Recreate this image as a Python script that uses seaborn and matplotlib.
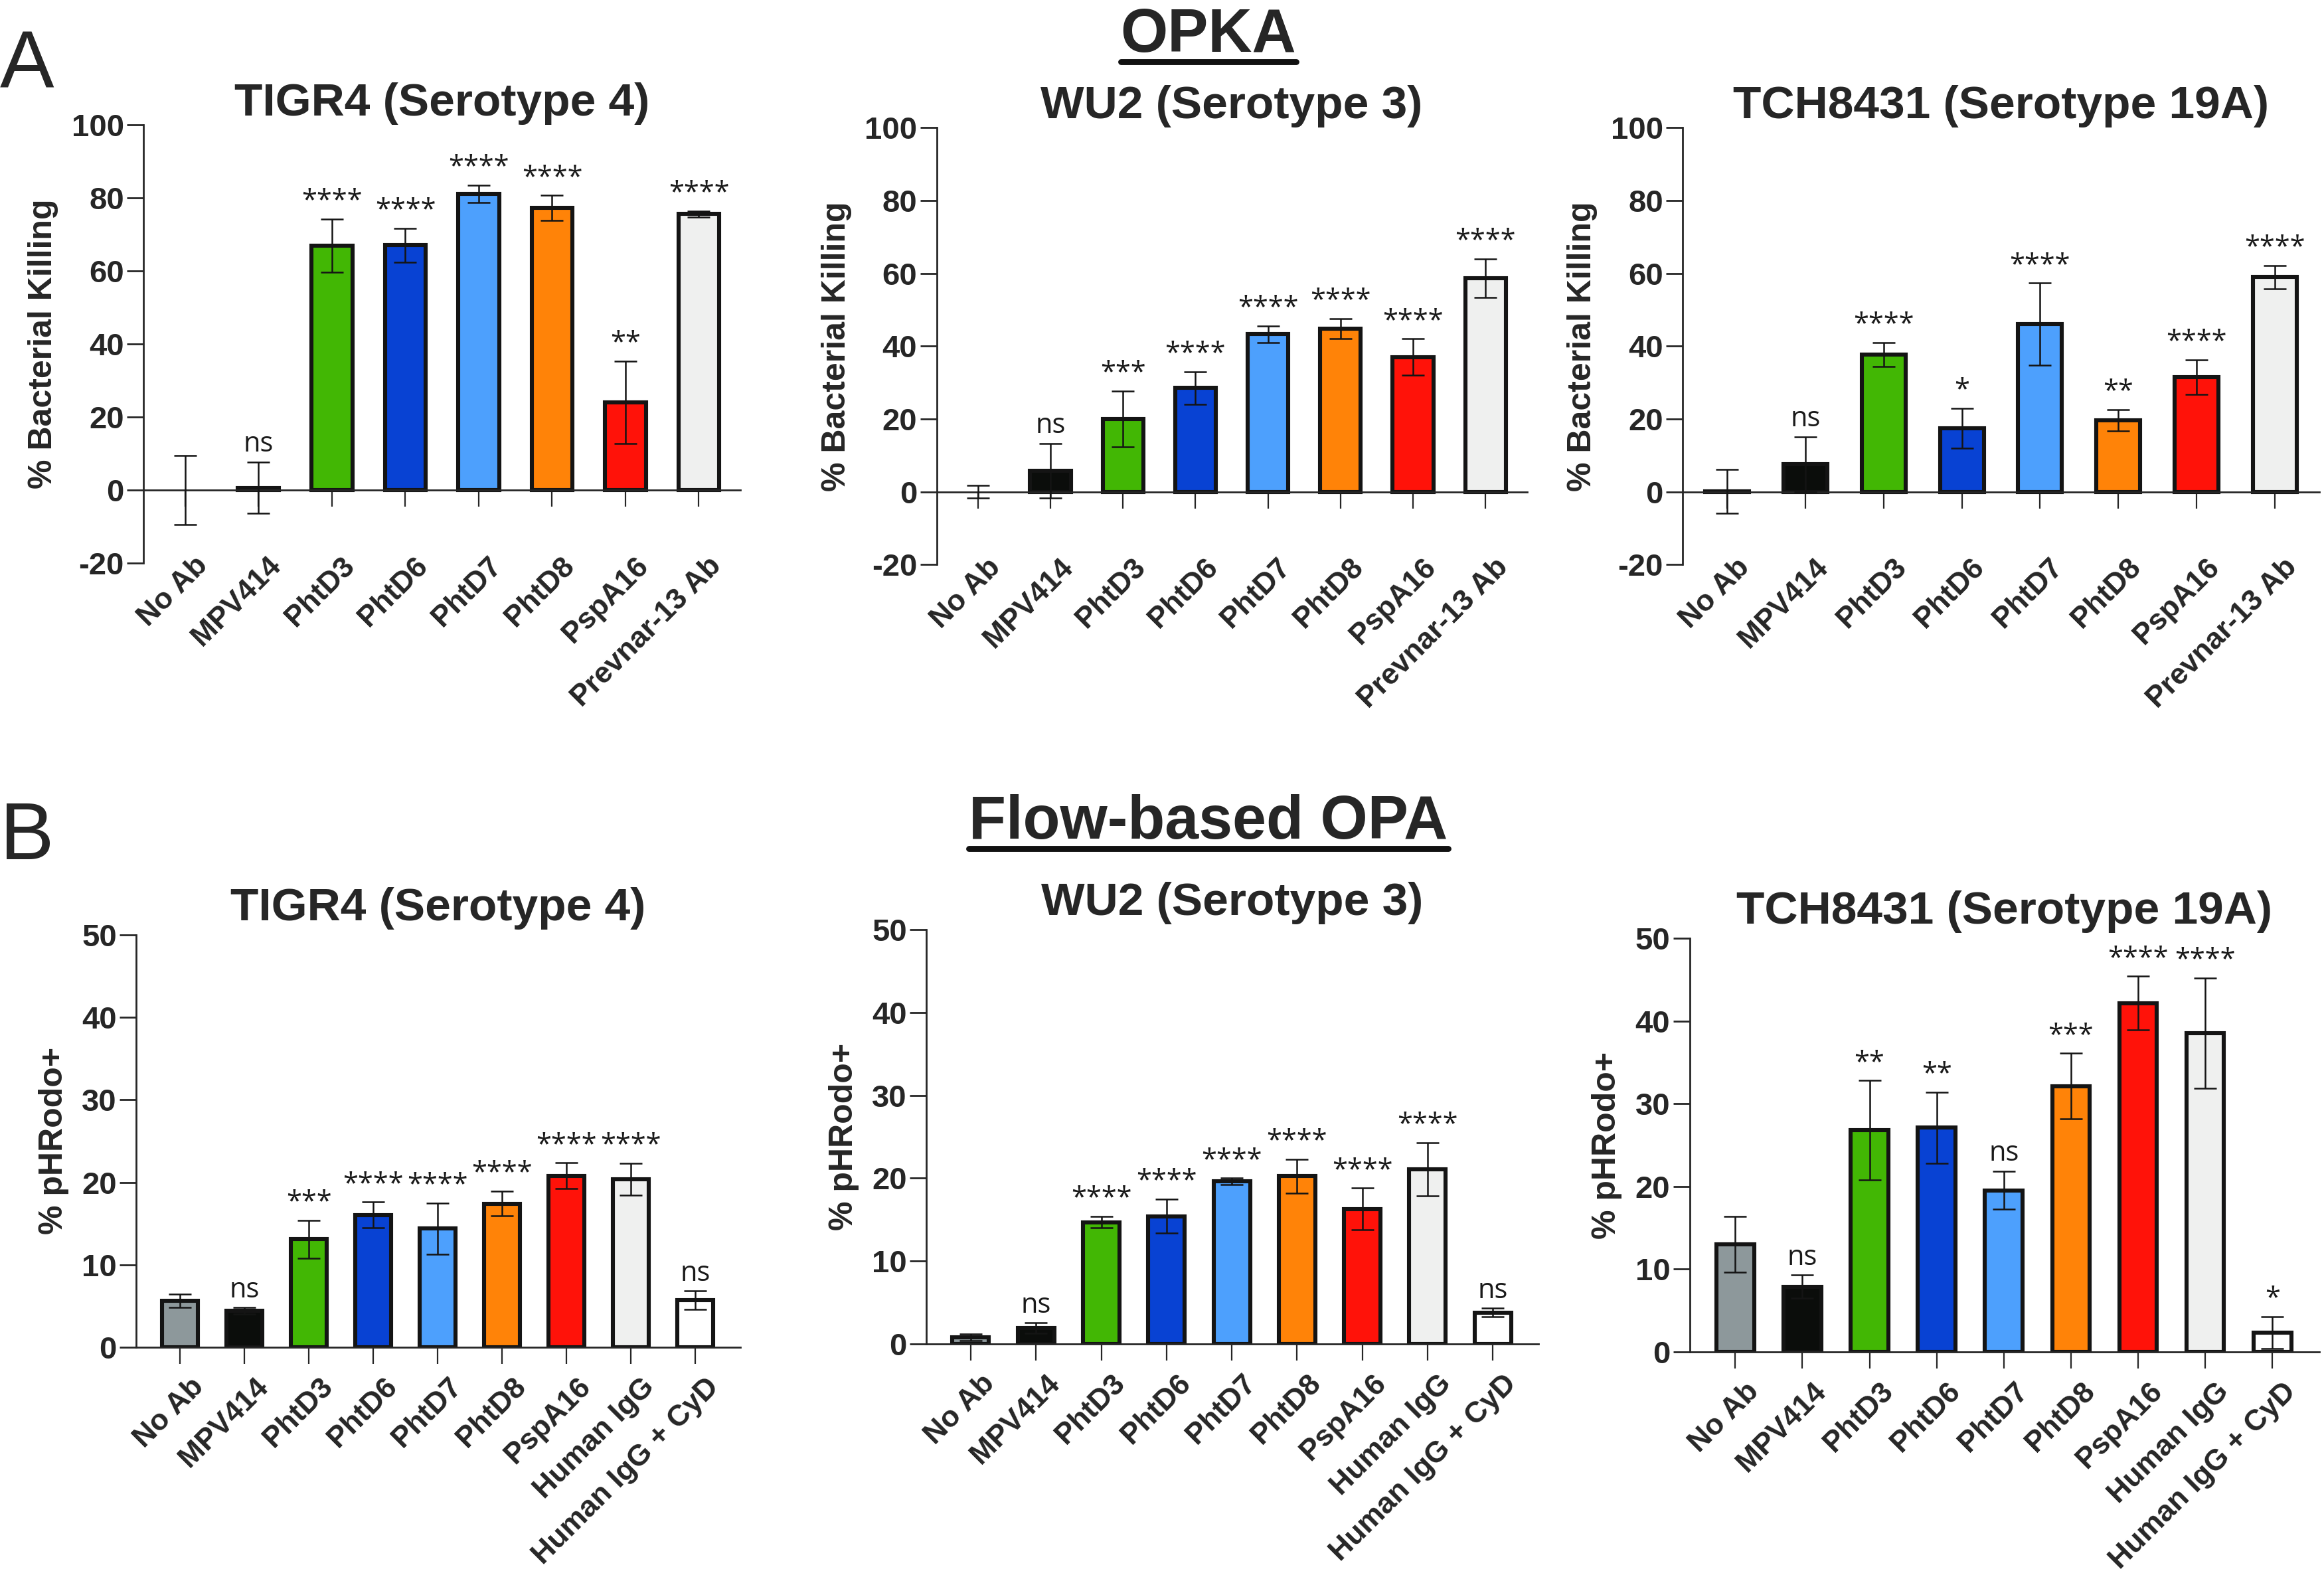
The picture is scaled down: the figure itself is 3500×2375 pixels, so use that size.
import matplotlib
matplotlib.use("Agg")
import matplotlib.pyplot as plt
from matplotlib.lines import Line2D
from matplotlib.transforms import ScaledTranslation
import pandas as pd
import seaborn as sns

sns.set_style("ticks")
plt.rcParams["font.family"] = ["Liberation Sans", "DejaVu Sans"]
plt.rcParams["axes.linewidth"] = 1.0
plt.rcParams["axes.unicode_minus"] = False

# ---- data ----
opka_groups = ["No Ab", "MPV414", "PhtD3", "PhtD6", "PhtD7", "PhtD8", "PspA16", "Prevnar-13 Ab"]
opa_groups = ["No Ab", "MPV414", "PhtD3", "PhtD6", "PhtD7", "PhtD8", "PspA16",
              "Human IgG", "Human IgG + CyD"]

# OPKA, % bacterial killing
tigr4_opka_mean = [0.0, 0.6, 66.8, 67.0, 81.0, 77.2, 24.0, 75.5]
tigr4_opka_err = [9.5, 7.0, 7.3, 4.6, 2.4, 3.4, 11.3, 0.8]
tigr4_opka_sig = ["", "ns", "****", "****", "****", "****", "**", "****"]

wu2_opka_mean = [0.0, 5.8, 20.0, 28.5, 43.3, 44.8, 37.0, 58.7]
wu2_opka_err = [1.8, 7.5, 7.7, 4.5, 2.3, 2.8, 5.0, 5.3]
wu2_opka_sig = ["", "ns", "***", "****", "****", "****", "****", "****"]

tch_opka_mean = [0.1, 7.5, 37.7, 17.5, 46.0, 19.6, 31.5, 59.0]
tch_opka_err = [6.1, 7.6, 3.3, 5.5, 11.3, 2.9, 4.7, 3.2]
tch_opka_sig = ["", "ns", "****", "*", "****", "**", "****", "****"]

# Flow-based OPA, % pHRodo+
tigr4_opa_mean = [5.6, 4.4, 13.1, 16.05, 14.4, 17.4, 20.8, 20.35, 5.7]
tigr4_opa_err = [0.8, 0.4, 2.3, 1.55, 3.1, 1.5, 1.55, 1.95, 1.1]
tigr4_opa_sig = ["", "ns", "***", "****", "****", "****", "****", "****", "ns"]

wu2_opa_mean = [0.8, 1.9, 14.7, 15.4, 19.6, 20.25, 16.3, 21.1, 3.8]
wu2_opa_err = [0.4, 0.65, 0.7, 2.05, 0.4, 2.05, 2.5, 3.2, 0.5]
wu2_opa_sig = ["", "ns", "****", "****", "****", "****", "****", "****", "ns"]

tch_opa_mean = [13.0, 7.9, 26.8, 27.1, 19.55, 32.15, 42.15, 38.55, 2.35]
tch_opa_err = [3.4, 1.4, 6.0, 4.3, 2.3, 3.95, 3.25, 6.65, 1.95]
tch_opa_sig = ["", "ns", "**", "**", "ns", "***", "****", "****", "*"]

bar_colors = {
    "No Ab": "#8d989b", "MPV414": "#0b0d0b", "PhtD3": "#42b704", "PhtD6": "#0842d3",
    "PhtD7": "#4da0fd", "PhtD8": "#ff8308", "PspA16": "#ff1209",
    "Prevnar-13 Ab": "#eff0ef", "Human IgG": "#eff0ef", "Human IgG + CyD": "#ffffff",
}

EDGE = "#141414"
XLAB_SIZE = 16


def draw_panel(ax, groups, mean, err, sig, title, ylabel, top_row):
    df = pd.DataFrame({"group": groups, "value": mean})
    sns.barplot(data=df, x="group", y="value", hue="group", palette=bar_colors,
                order=groups, hue_order=groups, legend=False, errorbar=None,
                saturation=1, width=0.56, edgecolor=EDGE, linewidth=2.2, ax=ax)
    # zero-height bars leave no outline in the original
    for p in ax.patches:
        if p.get_height() == 0:
            p.set_linewidth(0)
    xs = list(range(len(groups)))
    ax.errorbar(xs, mean, yerr=err, fmt="none", ecolor=EDGE, elinewidth=0.9,
                capsize=6, capthick=0.9, zorder=5)
    for i, (m, e, s) in enumerate(zip(mean, err, sig)):
        if s:
            ax.annotate(s, (i, m + e), xytext=(0, 2), textcoords="offset points",
                        ha="center", va="bottom", fontsize=15, family="Open Sans",
                        color="#1a1a1a")

    ax.set_title(title, fontsize=25, fontweight="bold", pad=3 if top_row else 8)
    ax.set_ylabel(ylabel, fontsize=18, fontweight="bold", labelpad=7)
    ax.set_xlabel("")
    for side in ("top", "right"):
        ax.spines[side].set_visible(False)

    if top_row:
        yt = list(range(-20, 101, 20))
        ax.set_ylim(-20, 100)
        ax.set_xlim(-0.57, len(groups) - 0.43)
    else:
        yt = list(range(0, 51, 10))
        ax.set_ylim(0, 50)
        ax.set_xlim(-0.68, len(groups) - 0.3)
    ax.set_yticks(yt, labels=[str(v) for v in yt], fontsize=17, fontweight="bold")
    ax.tick_params(axis="y", length=9, width=1.0, pad=1.5)

    if top_row:
        # baseline at y=0, group names hang from the bottom of the axes
        ax.spines["bottom"].set_position(("data", 0))
        ax.set_xticks(xs)
        ax.tick_params(axis="x", length=9, width=0.8, labelbottom=False)
        for i, g in enumerate(groups):
            ax.annotate(g, (i, 0), xycoords=ax.get_xaxis_transform(),
                        xytext=(4.7, 6), textcoords="offset points",
                        rotation=45, ha="right", va="top", rotation_mode="anchor",
                        fontsize=XLAB_SIZE, fontweight="bold")
    else:
        ax.set_xticks(xs, labels=groups)
        ax.tick_params(axis="x", length=9, width=0.8, pad=5)
        shift = ScaledTranslation(5.4 / 72, 0, ax.figure.dpi_scale_trans)
        for lab in ax.get_xticklabels():
            lab.set_rotation(45)
            lab.set_ha("right")
            lab.set_va("top")
            lab.set_rotation_mode("anchor")
            lab.set_fontweight("bold")
            lab.set_fontsize(XLAB_SIZE)
            lab.set_transform(lab.get_transform() + shift)


fig = plt.figure(figsize=(17.5, 11.875), dpi=200)

panels = [
    ([0.0617, 0.643, 0.257, 0.278], opka_groups, tigr4_opka_mean, tigr4_opka_err, tigr4_opka_sig,
     "TIGR4 (Serotype 4)", "% Bacterial Killing", True),
    ([0.403, 0.642, 0.254, 0.277], opka_groups, wu2_opka_mean, wu2_opka_err, wu2_opka_sig,
     "WU2 (Serotype 3)", "% Bacterial Killing", True),
    ([0.724, 0.642, 0.274, 0.277], opka_groups, tch_opka_mean, tch_opka_err, tch_opka_sig,
     "TCH8431 (Serotype 19A)", "% Bacterial Killing", True),
    ([0.0586, 0.1457, 0.260, 0.2615], opa_groups, tigr4_opa_mean, tigr4_opa_err, tigr4_opa_sig,
     "TIGR4 (Serotype 4)", "% pHRodo+", False),
    ([0.3986, 0.1478, 0.2634, 0.2627], opa_groups, wu2_opa_mean, wu2_opa_err, wu2_opa_sig,
     "WU2 (Serotype 3)", "% pHRodo+", False),
    ([0.727, 0.1427, 0.271, 0.2623], opa_groups, tch_opa_mean, tch_opa_err, tch_opa_sig,
     "TCH8431 (Serotype 19A)", "% pHRodo+", False),
]
for rect, groups, m, e, s, title, ylab, top in panels:
    ax = fig.add_axes(rect)
    draw_panel(ax, groups, m, e, s, title, ylab, top)

# section headers and panel letters
headers = [
    fig.text(0.52, 0.967, "OPKA", ha="center", va="baseline", fontsize=33,
             fontweight="bold"),
    fig.text(0.52, 0.468, "Flow-based OPA", ha="center", va="baseline", fontsize=33,
             fontweight="bold"),
]
fig.text(0.0, 0.944, "A", ha="left", va="baseline", fontsize=44)
fig.text(0.0, 0.455, "B", ha="left", va="baseline", fontsize=44)

fig.canvas.draw()
inv = fig.transFigure.inverted()
for t in headers:
    bb = t.get_window_extent().transformed(inv)
    fig.add_artist(Line2D([bb.x0, bb.x1], [bb.y0 + 0.002, bb.y0 + 0.002],
                          color="#111111", linewidth=3.2, transform=fig.transFigure))

fig.savefig("out.png", dpi=200)
